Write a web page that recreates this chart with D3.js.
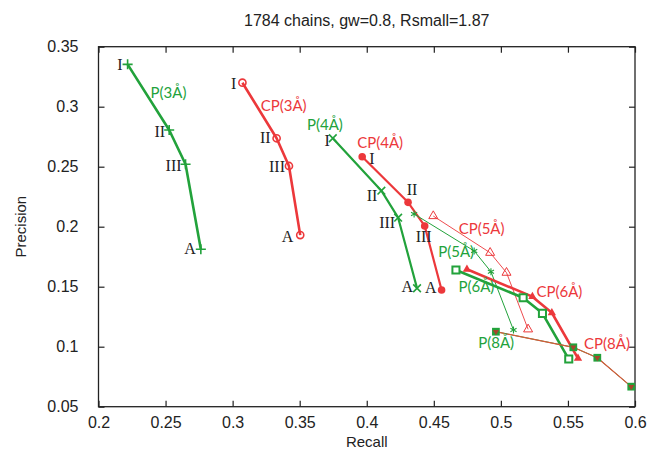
<!DOCTYPE html>
<html>
<head>
<meta charset="utf-8">
<script src="https://cdn.jsdelivr.net/npm/d3@7"></script>
<style>
  body { margin: 0; background: #fff; }
  svg { display: block; }
</style>
</head>
<body>
<div id="wrapper"></div>
<script>
// values
const xTicks = [0.2, 0.25, 0.3, 0.35, 0.4, 0.45, 0.5, 0.55, 0.6];
const yTicks = [0.05, 0.1, 0.15, 0.2, 0.25, 0.3, 0.35];

const p3Recall = [0.2217, 0.2527, 0.2649, 0.2763];
const p3Precision = [0.3353, 0.2806, 0.252, 0.1812];
const cp3Recall = [0.3073, 0.3328, 0.342, 0.3504];
const cp3Precision = [0.32, 0.2737, 0.2506, 0.193];
const p4Recall = [0.3747, 0.4109, 0.4234, 0.4375];
const p4Precision = [0.2737, 0.23, 0.2075, 0.1487];
const cp4Recall = [0.3966, 0.4308, 0.4432, 0.4558];
const cp4Precision = [0.2583, 0.2203, 0.2006, 0.1473];
const p5Recall = [0.4353, 0.4801, 0.4926, 0.5094];
const p5Precision = [0.2106, 0.1798, 0.1625, 0.1139];
const cp5Recall = [0.4496, 0.492, 0.5042, 0.5203];
const cp5Precision = [0.2089, 0.1783, 0.1617, 0.1145];
const p6Recall = [0.4665, 0.5166, 0.531, 0.5506];
const p6Precision = [0.1639, 0.1408, 0.1278, 0.0897];
const cp6Recall = [0.4747, 0.5235, 0.538, 0.5575];
const cp6Precision = [0.1645, 0.1417, 0.1283, 0.0903];
const p8Recall = [0.4963, 0.554, 0.5719, 0.5972];
const p8Precision = [0.1125, 0.0995, 0.0908, 0.0667];
const cp8Recall = [0.4963, 0.554, 0.5719, 0.5972];
const cp8Precision = [0.1125, 0.0995, 0.0908, 0.0667];

const seriesNames = ["P(3Å)", "CP(3Å)", "P(4Å)", "CP(4Å)", "P(5Å)", "CP(5Å)", "P(6Å)", "CP(6Å)", "P(8Å)", "CP(8Å)"];
// where each series name sits (recall, precision of the text baseline start)
const nameRecall = [0.2388, 0.3209, 0.3554, 0.3929, 0.4533, 0.4685, 0.4684, 0.5265, 0.4831, 0.562];
const namePrecision = [0.307, 0.2964, 0.2806, 0.2658, 0.175, 0.1939, 0.1458, 0.1417, 0.0987, 0.0978];

const romanText = ["I", "II", "III", "A"];

const green = "#22a23b";
const red = "#ec383b";

const series = [
  { recall: p3Recall, precision: p3Precision, color: green, width: 2.6, marker: "plus" },
  { recall: cp3Recall, precision: cp3Precision, color: red, width: 2.6, marker: "circleOpen" },
  { recall: p4Recall, precision: p4Precision, color: green, width: 2.2, marker: "times" },
  { recall: cp4Recall, precision: cp4Precision, color: red, width: 2.2, marker: "circle" },
  { recall: p5Recall, precision: p5Precision, color: green, width: 1, marker: "asterisk" },
  { recall: cp5Recall, precision: cp5Precision, color: red, width: 0.9, marker: "triangleOpen" },
  { recall: p6Recall, precision: p6Precision, color: green, width: 2.6, marker: "squareOpen" },
  { recall: cp6Recall, precision: cp6Precision, color: red, width: 2.6, marker: "triangle" },
  { recall: p8Recall, precision: p8Precision, color: green, width: 1, marker: "square" },
  { recall: cp8Recall, precision: cp8Precision, color: "#d9583a", width: 1.2, marker: "triangleDown" },
];

// roman labels next to the first four series: [series index, point index, dx, dy, anchor]
const romanLabels = [
  [0, 0, -5, 6, "end"], [0, 1, -4, 7, "end"], [0, 2, -4, 7, "end"], [0, 3, -5, 5, "end"],
  [1, 0, -6, 6, "end"], [1, 1, -6, 5, "end"], [1, 2, -4, 6, "end"], [1, 3, -7, 7, "end"],
  [2, 0, -3, 8, "end"], [2, 1, -4, 10, "end"], [2, 2, -3, 10, "end"], [2, 3, -4, 4, "end"],
  [3, 0, 7, 7, "start"], [3, 1, 4, -7, "middle"], [3, 2, -1, 16, "middle"], [3, 3, -5, 3, "end"],
];

const width = 647;
let dimensions = {
  width,
  height: 453,
  margin: { top: 46.7, right: 12, bottom: 46.3, left: 98.5 },
};
dimensions.boundedWidth = dimensions.width - dimensions.margin.left - dimensions.margin.right;
dimensions.boundedHeight = dimensions.height - dimensions.margin.top - dimensions.margin.bottom;

const wrapper = d3.select("#wrapper")
  .append("svg")
  .attr("width", dimensions.width)
  .attr("height", dimensions.height);

const bounds = wrapper.append("g")
  .attr("transform", `translate(${dimensions.margin.left},${dimensions.margin.top})`);

const xScale = d3.scaleLinear().domain([0.2, 0.6]).range([0, dimensions.boundedWidth]);
const yScale = d3.scaleLinear().domain([0.05, 0.35]).range([dimensions.boundedHeight, 0]);

const sans = "'Liberation Sans', Arial, sans-serif";

// axes with inward ticks, mirrored on top / right
const tickLen = 6;
const fmt = (d) => d3.format("")(+d.toFixed(2));

const xAxis = bounds.append("g")
  .attr("transform", `translate(0,${dimensions.boundedHeight})`)
  .call(d3.axisBottom(xScale).tickValues(xTicks).tickSizeInner(-tickLen).tickSizeOuter(0).tickPadding(10).tickFormat(fmt));
const xAxisTop = bounds.append("g")
  .call(d3.axisTop(xScale).tickValues(xTicks).tickSizeInner(-tickLen).tickSizeOuter(0).tickFormat(""));
const yAxis = bounds.append("g")
  .call(d3.axisLeft(yScale).tickValues(yTicks).tickSizeInner(-tickLen).tickSizeOuter(0).tickPadding(20).tickFormat(fmt));
const yAxisRight = bounds.append("g")
  .attr("transform", `translate(${dimensions.boundedWidth},0)`)
  .call(d3.axisRight(yScale).tickValues(yTicks).tickSizeInner(-tickLen).tickSizeOuter(0).tickFormat(""));

[xAxis, xAxisTop, yAxis, yAxisRight].forEach((a) => {
  a.select(".domain").remove();
  a.selectAll(".tick line").attr("stroke", "#222").attr("stroke-width", 1.2);
  a.selectAll("text").attr("font-family", sans).attr("font-size", 16).attr("fill", "#222");
});

bounds.append("rect")
  .attr("width", dimensions.boundedWidth)
  .attr("height", dimensions.boundedHeight)
  .attr("fill", "none")
  .attr("stroke", "#222")
  .attr("stroke-width", 1.3);

// lines
const lineGen = (s) => d3.line()
  .x((d, i) => xScale(s.recall[i]))
  .y((d, i) => yScale(s.precision[i]));

series.forEach((s) => {
  bounds.append("path")
    .datum(s.recall)
    .attr("d", lineGen(s))
    .attr("fill", "none")
    .attr("stroke", s.color)
    .attr("stroke-width", s.width)
    .attr("stroke-linejoin", "round");
});

// markers
const symbolFor = {
  plus: [d3.symbolPlus || d3.symbolCross, 35, false, 1.6],
  times: [d3.symbolTimes || d3.symbolCross, 40, false, 1.6],
  asterisk: [d3.symbolAsterisk || d3.symbolCross, 35, false, 1.1],
  circleOpen: [d3.symbolCircle, 40, false, 1.6],
  circle: [d3.symbolCircle, 45, true, 0],
  triangleOpen: [d3.symbolTriangle, 35, false, 1],
  triangle: [d3.symbolTriangle, 30, true, 0],
  squareOpen: [d3.symbolSquare, 50, false, 2],
  square: [d3.symbolSquare, 60, true, 0],
  triangleDown: [d3.symbolTriangle, 16, true, 0],
};

series.forEach((s) => {
  const [type, size, filled, sw] = symbolFor[s.marker];
  const fill = s.marker === "triangleDown" ? "#a8452c" : s.color;
  bounds.append("g")
    .selectAll("path")
    .data(s.recall)
    .join("path")
    .attr("d", d3.symbol().type(type).size(size))
    .attr("transform", (d, i) =>
      `translate(${xScale(s.recall[i])},${yScale(s.precision[i])})` + (s.marker === "triangleDown" ? " rotate(180)" : ""))
    .attr("fill", filled ? fill : (s.marker === "squareOpen" ? "#fff" : "none"))
    .attr("stroke", filled ? "none" : s.color)
    .attr("stroke-width", sw);
});

// roman numeral labels
bounds.append("g")
  .selectAll("text")
  .data(romanLabels)
  .join("text")
  .attr("x", (d) => xScale(series[d[0]].recall[d[1]]) + d[2])
  .attr("y", (d) => yScale(series[d[0]].precision[d[1]]) + d[3])
  .attr("text-anchor", (d) => d[4])
  .attr("font-family", "'Liberation Serif', 'Times New Roman', serif")
  .attr("font-size", 16)
  .attr("fill", "#222")
  .text((d) => romanText[d[1]]);

// series names
bounds.append("g")
  .selectAll("text")
  .data(seriesNames)
  .join("text")
  .attr("x", (d, i) => xScale(nameRecall[i]))
  .attr("y", (d, i) => yScale(namePrecision[i]))
  .attr("font-family", "Lato, 'Open Sans', sans-serif")
  .attr("font-size", 15)
  .attr("fill", (d, i) => (i % 2 === 0 ? green : red))
  .text((d) => d);

// title and axis labels
wrapper.append("text")
  .attr("x", dimensions.margin.left + dimensions.boundedWidth / 2)
  .attr("y", 26)
  .attr("text-anchor", "middle")
  .attr("font-family", sans)
  .attr("font-size", 16)
  .attr("fill", "#222")
  .text("1784 chains, gw=0.8, Rsmall=1.87");

wrapper.append("text")
  .attr("x", dimensions.margin.left + dimensions.boundedWidth / 2)
  .attr("y", 447)
  .attr("text-anchor", "middle")
  .attr("font-family", sans)
  .attr("font-size", 15)
  .attr("fill", "#222")
  .text("Recall");

wrapper.append("text")
  .attr("transform", `translate(26,${dimensions.margin.top + dimensions.boundedHeight / 2}) rotate(-90)`)
  .attr("text-anchor", "middle")
  .attr("font-family", sans)
  .attr("font-size", 15)
  .attr("fill", "#222")
  .text("Precision");
</script>
</body>
</html>
